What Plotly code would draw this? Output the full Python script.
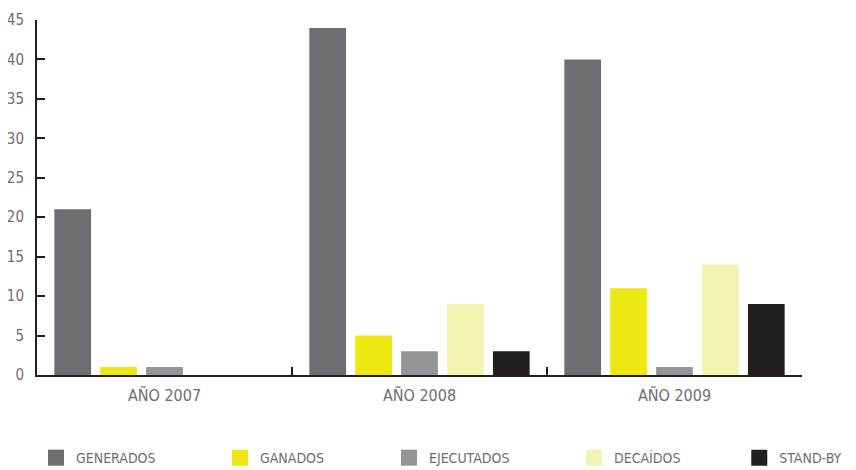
import plotly.graph_objects as go

years = ["AÑO 2007", "AÑO 2008", "AÑO 2009"]
series_names = ["GENERADOS", "GANADOS", "EJECUTADOS", "DECAÍDOS", "STAND-BY"]
generados = [21, 44, 40]
ganados = [1, 5, 11]
ejecutados = [1, 3, 1]
decaidos = [None, 9, 14]
standby = [None, 3, 9]
y_ticks = [0, 5, 10, 15, 20, 25, 30, 35, 40, 45]

colors = ["#6d6e71", "#ede812", "#939598", "#f4f4b2", "#231f20"]
values = [generados, ganados, ejecutados, decaidos, standby]
legend_x = [-0.0013, 0.2392, 0.4601, 0.702, 0.918]

FONT = "DejaVu Sans Condensed, Liberation Sans Narrow, Arial Narrow, sans-serif"

fig = go.Figure()
for name, vals, col in zip(series_names, values, colors):
    fig.add_trace(go.Bar(x=years, y=vals, name=name, marker_color=col,
                         marker_line_width=0, showlegend=False, legendgroup=name))
# legend entries with larger square swatches, one legend each
legend_ids = ["legend", "legend2", "legend3", "legend4", "legend5"]
for name, col, lid in zip(series_names, colors, legend_ids):
    fig.add_trace(go.Scatter(x=[None], y=[None], mode="markers", name=name,
                             legendgroup=name, legend=lid,
                             marker=dict(symbol="square", size=19, color=col),
                             showlegend=True))

layout_legends = {}
for lid, lx in zip(legend_ids, legend_x):
    layout_legends[lid] = dict(orientation="h", x=lx, xanchor="left", y=-0.234,
                               yanchor="middle", bgcolor="rgba(0,0,0,0)",
                               font=dict(size=14, color="#6d6e71", family=FONT),
                               itemwidth=30, itemsizing="trace")

fig.update_layout(
    width=848, height=462,
    margin=dict(l=29, r=54, t=12, b=95, autoexpand=False),
    paper_bgcolor="white", plot_bgcolor="white",
    barmode="group", bargap=0.1, bargroupgap=0.2,
    font=dict(family=FONT, color="#6d6e71", size=14),
    showlegend=True,
    **layout_legends,
)
fig.update_xaxes(
    type="category", showline=True, linecolor="#231f20", linewidth=2,
    ticks="inside", tickson="boundaries", ticklen=8, tickwidth=2, tickcolor="#231f20",
    tickfont=dict(size=16, color="#6d6e71", family=FONT), showgrid=False,
    range=[-0.5, 2.5], ticklabelstandoff=5,
)
fig.update_yaxes(
    range=[0, 45], tickvals=y_ticks, showline=True, linecolor="#231f20", linewidth=2,
    ticks="inside", ticklen=8, tickwidth=2, tickcolor="#231f20",
    tickfont=dict(size=15, color="#6d6e71", family=FONT), showgrid=False, zeroline=False,
    ticklabelstandoff=8,
)

fig.write_html("out.html")
